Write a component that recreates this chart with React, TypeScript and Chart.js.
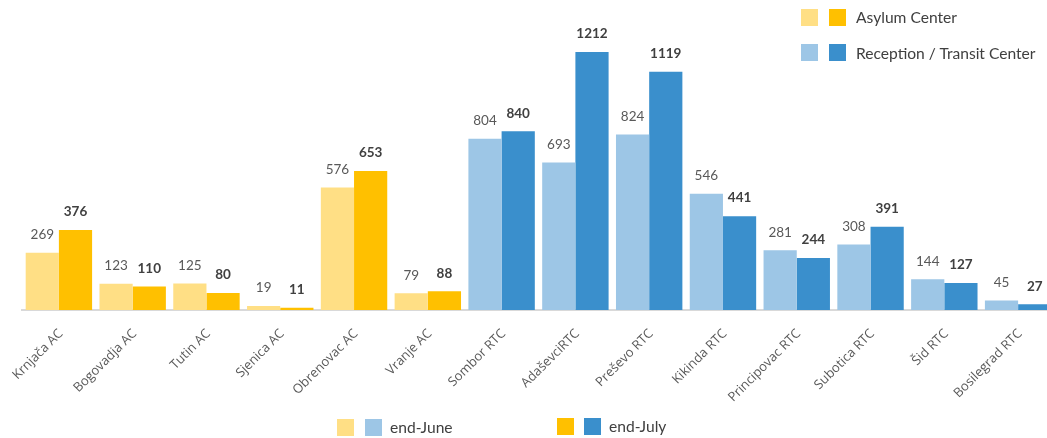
import React, { useEffect, useRef } from "react";
import { Chart, registerables } from "chart.js";

Chart.register(...registerables);

const categories = [
  "Krnjača AC", "Bogovadja AC", "Tutin AC", "Sjenica AC", "Obrenovac AC", "Vranje AC",
  "Sombor RTC", "AdaševciRTC", "Preševo RTC", "Kikinda RTC", "Principovac RTC",
  "Subotica RTC", "Šid RTC", "Bosilegrad RTC",
];
const centerType = ["AC", "AC", "AC", "AC", "AC", "AC", "RTC", "RTC", "RTC", "RTC", "RTC", "RTC", "RTC", "RTC"];
const endJune = [269, 123, 125, 19, 576, 79, 804, 693, 824, 546, 281, 308, 144, 45];
const endJuly = [376, 110, 80, 11, 653, 88, 840, 1212, 1119, 441, 244, 391, 127, 27];

const COLORS = {
  acLight: "#FFDF85",
  acDark: "#FFC000",
  rtcLight: "#9DC6E6",
  rtcDark: "#3A8FCC",
};

const FONT = "Lato, 'Open Sans', sans-serif";
const TICK_FONT = "'Open Sans', Lato, sans-serif";

const valueLabels = {
  id: "valueLabels",
  afterDatasetsDraw(chart: any) {
    const ctx = chart.ctx;
    chart.data.datasets.forEach((ds: any, di: number) => {
      const meta = chart.getDatasetMeta(di);
      meta.data.forEach((el: any, i: number) => {
        ctx.save();
        ctx.font = (di === 1 ? "bold " : "") + "13.5px " + FONT;
        ctx.fillStyle = di === 1 ? "#404040" : "#595959";
        ctx.textAlign = "center";
        ctx.textBaseline = "middle";
        ctx.fillText(String(ds.data[i]), el.x, el.y - 18);
        ctx.restore();
      });
    });
  },
};

function Swatch({ x, y, color }: { x: number; y: number; color: string }) {
  return (
    <div style={{ position: "absolute", left: x, top: y, width: 17, height: 17, background: color }} />
  );
}

function Label({ x, y, text }: { x: number; y: number; text: string }) {
  return (
    <div
      style={{
        position: "absolute", left: x, top: y, fontFamily: FONT, fontSize: 15.6,
        color: "#404040", lineHeight: "18px", whiteSpace: "nowrap",
      }}
    >
      {text}
    </div>
  );
}

export default function App() {
  const ref = useRef<HTMLCanvasElement>(null);

  useEffect(() => {
    document.body.style.margin = "0";
    const light = centerType.map((t) => (t === "AC" ? COLORS.acLight : COLORS.rtcLight));
    const dark = centerType.map((t) => (t === "AC" ? COLORS.acDark : COLORS.rtcDark));
    const chart = new Chart(ref.current as HTMLCanvasElement, {
      type: "bar",
      data: {
        labels: categories,
        datasets: [
          { label: "end-June", data: endJune, backgroundColor: light, categoryPercentage: 0.9, barPercentage: 1 },
          { label: "end-July", data: endJuly, backgroundColor: dark, categoryPercentage: 0.9, barPercentage: 1 },
        ],
      },
      options: {
        responsive: true,
        maintainAspectRatio: false,
        animation: false,
        layout: { padding: { left: 22, right: 0, top: 12, bottom: 0 } },
        plugins: { legend: { display: false }, tooltip: { enabled: false } },
        scales: {
          x: {
            grid: { display: false },
            border: { display: true, color: "#D9D9D9", width: 2 },
            ticks: {
              color: "#595959",
              font: { family: TICK_FONT, size: 13 },
              minRotation: 45,
              maxRotation: 45,
              autoSkip: false,
              padding: 8,
              labelOffset: 2,
            },
            afterFit: (scale: any) => {
              scale.height = 128;
            },
          },
          y: { display: false, min: 0, max: 1400 },
        },
      },
      plugins: [valueLabels],
    });
    return () => chart.destroy();
  }, []);

  return (
    <div style={{ position: "relative", width: 1047, height: 438, overflow: "hidden" }}>
      <div style={{ position: "absolute", left: 0, top: 0, width: 1055, height: 438 }}>
        <canvas ref={ref} />
      </div>
      <Swatch x={801} y={9} color={COLORS.acLight} />
      <Swatch x={829} y={9} color={COLORS.acDark} />
      <Label x={856} y={8} text="Asylum Center" />
      <Swatch x={801} y={44} color={COLORS.rtcLight} />
      <Swatch x={829} y={44} color={COLORS.rtcDark} />
      <Label x={856} y={44} text="Reception / Transit Center" />
      <Swatch x={337} y={419} color={COLORS.acLight} />
      <Swatch x={365} y={419} color={COLORS.rtcLight} />
      <Label x={390} y={418} text="end-June" />
      <Swatch x={557} y={418} color={COLORS.acDark} />
      <Swatch x={584} y={418} color={COLORS.rtcDark} />
      <Label x={609} y={417} text="end-July" />
    </div>
  );
}
